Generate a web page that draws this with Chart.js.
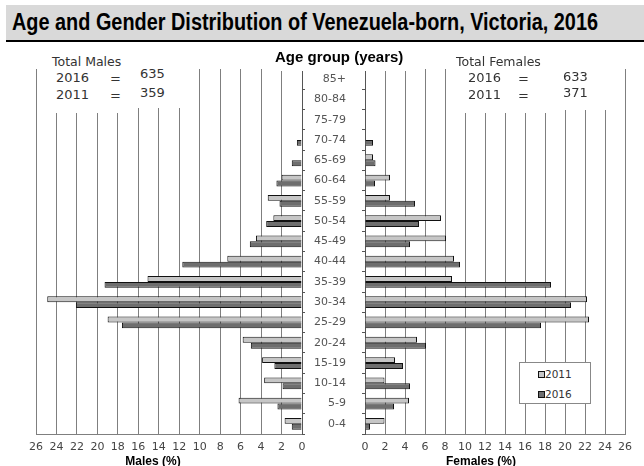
<!DOCTYPE html>
<html>
<head>
<meta charset="utf-8">
<script src="https://cdn.jsdelivr.net/npm/chart.js@4.4.1/dist/chart.umd.min.js"></script>
<style>
  html, body { margin:0; padding:0; background:#fff; }
  #wrap { position:relative; width:644px; height:466px; overflow:hidden; background:#fff; }
  canvas { position:absolute; left:0; top:0; }
  .t { position:absolute; white-space:nowrap; font-family:'DejaVu Sans', sans-serif; color:#333; z-index:5; }
  .box { position:absolute; background:#fff; z-index:4; }
  #banner { position:absolute; left:6px; top:5px; width:638px; height:35px; background:#d9d9d9; z-index:3; }
  #rule { position:absolute; left:6px; top:40px; width:638px; height:2px; background:#000; z-index:3; }
  #title { position:absolute; left:12px; top:7px; font-family:'Liberation Sans Narrow','Arial Narrow','Liberation Sans',sans-serif; font-weight:bold; font-size:23px; line-height:30px; color:#000; transform-origin:0 0; white-space:nowrap; z-index:5; }
  .ax { position:absolute; font-family:'Liberation Sans', Arial, sans-serif; font-weight:bold; font-size:12px; line-height:12px; color:#000; z-index:5; white-space:nowrap; transform:translateX(-50%); }
  #legend { position:absolute; left:519px; top:362px; width:70px; height:40px; border:1px solid #888; background:#fff; z-index:5; }
  .sw { position:absolute; width:5px; height:5px; border:1px solid #111; }
  .lt { position:absolute; font-family:'DejaVu Sans', sans-serif; font-size:10.5px; line-height:12px; color:#333; }
</style>
</head>
<body>
<div id="wrap">
  <div id="banner"></div>
  <div id="rule"></div>
  <div id="title">Age and Gender Distribution of Venezuela-born, Victoria, 2016</div>

  <canvas id="left" width="644" height="466"></canvas>
  <canvas id="right" width="644" height="466"></canvas>

  <div class="box" style="left:272px;top:48px;width:136px;height:23px;"></div>
  <div class="t" style="left:275px;top:48px;font-family:'Liberation Sans',Arial,sans-serif;font-weight:bold;font-size:15px;line-height:17px;color:#000;">Age group (years)</div>

  <div class="box" style="left:45px;top:50px;width:83px;height:63px;"></div>
  <div class="box" style="left:128px;top:50px;width:62px;height:58px;"></div>
  <div class="t" style="left:52px;top:55px;font-size:12.5px;line-height:14px;">Total Males</div>
  <div class="t" style="left:56px;top:71px;font-size:13px;line-height:14px;">2016</div>
  <div class="t" style="left:110px;top:72px;font-size:13px;line-height:14px;">=</div>
  <div class="t" style="left:140px;top:67px;font-size:13px;line-height:14px;">635</div>
  <div class="t" style="left:56px;top:88px;font-size:13px;line-height:14px;">2011</div>
  <div class="t" style="left:110px;top:89px;font-size:13px;line-height:14px;">=</div>
  <div class="t" style="left:140px;top:86px;font-size:13px;line-height:14px;">359</div>

  <div class="box" style="left:455px;top:50px;width:101px;height:63px;"></div>
  <div class="box" style="left:556px;top:50px;width:59px;height:60px;"></div>
  <div class="t" style="left:456px;top:55px;font-size:12.5px;line-height:14px;">Total Females</div>
  <div class="t" style="left:468px;top:71px;font-size:13px;line-height:14px;">2016</div>
  <div class="t" style="left:518px;top:72px;font-size:13px;line-height:14px;">=</div>
  <div class="t" style="left:563px;top:70px;font-size:13px;line-height:14px;">633</div>
  <div class="t" style="left:468px;top:88px;font-size:13px;line-height:14px;">2011</div>
  <div class="t" style="left:518px;top:89px;font-size:13px;line-height:14px;">=</div>
  <div class="t" style="left:563px;top:86px;font-size:13px;line-height:14px;">371</div>

  <div class="ax" style="left:153px;top:455px;">Males (%)</div>
  <div class="ax" style="left:481px;top:455px;">Females (%)</div>

  <div id="legend">
    <div class="sw" style="left:18px;top:8px;background:#c6c6c6;"></div>
    <div class="lt" style="left:25px;top:5px;">2011</div>
    <div class="sw" style="left:18px;top:28px;background:#6e6e6e;"></div>
    <div class="lt" style="left:25px;top:25px;">2016</div>
  </div>
</div>
<script>
// ---- data ----
const ageGroups = ['85+','80-84','75-79','70-74','65-69','60-64','55-59','50-54','45-49','40-44','35-39','30-34','25-29','20-24','15-19','10-14','5-9','0-4'];
const males2011   = [0, 0, 0, 0,   0,   2.0, 3.35, 2.8, 4.5, 7.3, 15.1, 24.9, 19.0, 5.8, 3.9, 3.7, 6.2, 1.7];
const males2016   = [0, 0, 0, 0.5, 1.0, 2.5, 2.2,  3.5, 5.1, 11.7, 19.3, 22.1, 17.6, 5.0, 2.7, 1.9, 2.4, 1.0];
const females2011 = [0, 0, 0, 0,   0.8, 2.5, 2.5,  7.6, 8.1, 8.9, 8.7, 22.2, 22.4, 5.2, 3.0, 1.95, 4.4, 1.95];
const females2016 = [0, 0, 0, 0.8, 1.05, 1.0, 5.0, 5.4, 4.5, 9.5, 18.6, 20.6, 17.6, 6.1, 3.8, 4.5, 2.9, 0.5];
const seriesLabels = ['2011', '2016'];
const xMin = 0, xMax = 26, xStep = 2;

// ---- styles ----
const LIGHT = '#c6c6c6', DARK = '#6e6e6e', EDGE = '#111111', GRID = '#7f7f7f';
const tickFont = { family: 'DejaVu Sans', size: 11 };

function datasets(a, b) {
  return [
    { label: seriesLabels[0], data: a, backgroundColor: LIGHT, borderColor: EDGE, borderWidth: 1, categoryPercentage: 0.58, barPercentage: 1.0 },
    { label: seriesLabels[1], data: b, backgroundColor: DARK,  borderColor: EDGE, borderWidth: 1, categoryPercentage: 0.58, barPercentage: 1.0 }
  ];
}

function xScale(reverse) {
  return {
    type: 'linear', reverse: reverse, min: xMin, max: xMax,
    ticks: { stepSize: xStep, font: tickFont, color: '#444', padding: 7, maxRotation: 0, autoSkip: false },
    grid: { color: GRID, lineWidth: 1, drawTicks: false },
    border: { display: true, color: GRID },
    afterFit(s) { s.height = 24; s.paddingLeft = 0; s.paddingRight = 0; }
  };
}

Chart.defaults.font.family = 'DejaVu Sans';

new Chart(document.getElementById('left'), {
  type: 'bar',
  data: { labels: ageGroups, datasets: datasets(males2011, males2016) },
  options: {
    indexAxis: 'y', responsive: false, animation: false, devicePixelRatio: 1,
    layout: { padding: { left: 36, right: 342, top: 69, bottom: 8 } },
    plugins: { legend: { display: false }, tooltip: { enabled: false } },
    scales: {
      x: xScale(true),
      y: {
        position: 'right',
        ticks: { display: false },
        grid: { drawOnChartArea: false, drawTicks: true, tickLength: 3, color: '#555', offset: true },
        border: { display: true, color: '#555' },
        afterFit(s) { s.width = 0; s.paddingTop = 0; s.paddingBottom = 0; }
      }
    }
  }
});

new Chart(document.getElementById('right'), {
  type: 'bar',
  data: { labels: ageGroups, datasets: datasets(females2011, females2016) },
  options: {
    indexAxis: 'y', responsive: false, animation: false, devicePixelRatio: 1,
    layout: { padding: { left: 305, right: 19, top: 69, bottom: 8 } },
    plugins: { legend: { display: false }, tooltip: { enabled: false } },
    scales: {
      x: xScale(false),
      y: {
        position: 'left',
        ticks: { display: true, font: tickFont, color: '#555', padding: 16, autoSkip: false },
        grid: { drawOnChartArea: false, drawTicks: true, tickLength: 3, color: '#555', offset: true },
        border: { display: true, color: '#555' },
        afterFit(s) { s.width = 60; s.paddingTop = 0; s.paddingBottom = 0; }
      }
    }
  }
});

// fit title width to reference (~586px)
(function () {
  const t = document.getElementById('title');
  const w = t.getBoundingClientRect().width;
  if (w > 0) t.style.transform = 'scaleX(' + (586 / w) + ')';
})();
</script>
</body>
</html>
